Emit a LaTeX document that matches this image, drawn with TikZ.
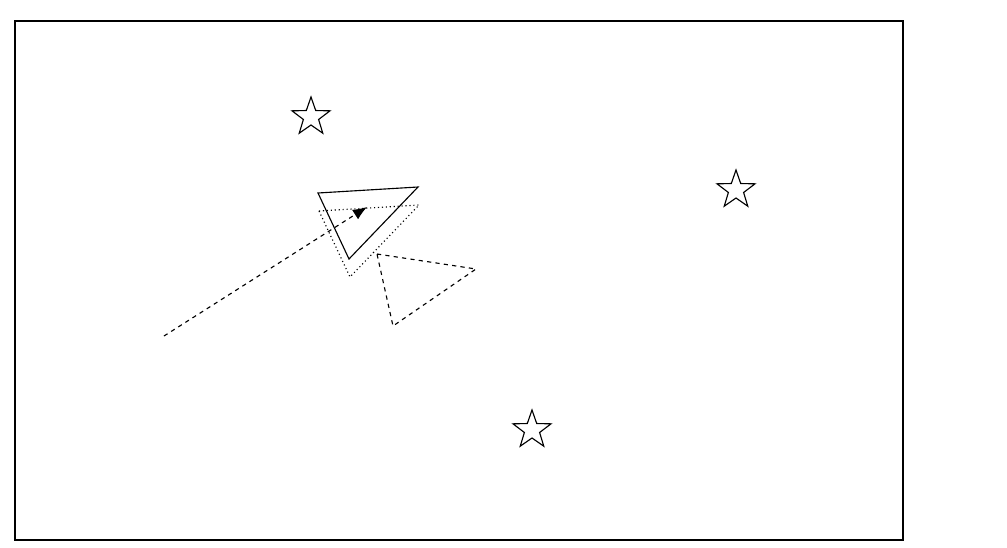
\documentclass[tikz,border=0pt]{standalone}
\usepackage{tikz}
\usetikzlibrary{positioning,arrows,arrows.meta,shapes.geometric}
\tikzset{>=latex}

\begin{document}
\begin{tikzpicture}[x=0.025cm, y=-0.025cm, line width=0.8pt]
    \tikzset{%
      sternchen/.style={draw, star, star points=5, star point ratio=2.5, minimum size=1cm, inner sep=0pt},
      alt/.style={dotted},
      neu/.style={dashed}
      }
     \useasboundingbox (0,0) rectangle (1007,547);
     \draw[line width=1pt] (15,21) rectangle (903,540);

     \node [sternchen] (S1) at (311,117) {};
     \node [sternchen] (S2) at (736,190) {};
     \node [sternchen] (S3) at (532,430) {};

     % Schiff
     \coordinate (Ta) at (318,193);
     \coordinate (Tb) at (418,187);
     \coordinate (Tc) at (349,259);
     \draw (Ta) -- (Tb) -- (Tc) -- cycle;

     \coordinate (Da) at (319,211);
     \coordinate (Db) at (419,205);
     \coordinate (Dc) at (350,277);
     \draw [alt] (Da) -- (Db) -- (Dc) -- cycle;

     \coordinate (Na) at (377,254);
     \coordinate (Nb) at (476,269);
     \coordinate (Nc) at (393,326);
     \draw [neu] (Na) -- (Nb) -- (Nc) -- cycle;

     \coordinate (Start) at (164,336);
     \coordinate (Ziel) at (367,207);
     \draw [neu, -{Latex[length=10pt,width=8pt]}] (Start) -- (Ziel);

\end{tikzpicture}
\end{document}
